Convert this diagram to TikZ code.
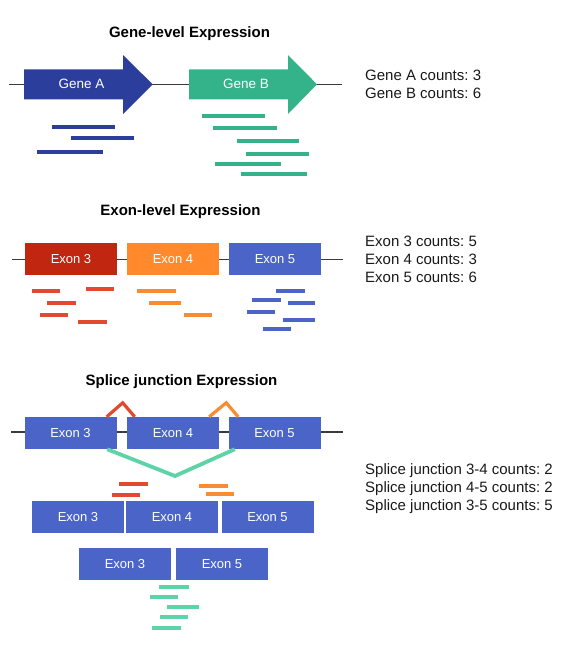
\documentclass[tikz,border=0pt]{standalone}
\usepackage{fontspec}
\setmainfont{Liberation Sans}
\usetikzlibrary{positioning}
\definecolor{geneA}{HTML}{2C3E9B}
\definecolor{geneB}{HTML}{34B28A}
\definecolor{exred}{HTML}{C02610}
\definecolor{exorange}{HTML}{FF892B}
\definecolor{exblue}{HTML}{4A64C8}
\definecolor{rdred}{HTML}{E24A30}
\definecolor{rdorange}{HTML}{F78C32}
\definecolor{rdgreen}{HTML}{5ED3A8}
\definecolor{backbone}{HTML}{3A3A3A}
\newcommand{\sz}[1]{\fontsize{#1}{18}\selectfont\frenchspacing}

\begin{document}
\begin{tikzpicture}[x=1pt, y=-1pt,
  title/.style={font=\sz{15}\bfseries, anchor=base, inner sep=0pt},
  counts/.style={font=\sz{15}, align=left, anchor=north west, inner sep=0pt, text=black!90},
  exon/.style={minimum width=92pt, minimum height=32pt, inner sep=0pt, text=white, font=\sz{13}},
  strand/.style={draw=backbone, line width=1.6pt},
  read/.style={line width=4pt},
  junction/.style={line width=3.2pt, line join=miter}]

\useasboundingbox (0,0) rectangle (565,649);

% gene level
\node[title] (gtitle) at (189.5,37) {Gene-level Expression};
\coordinate (gl) at (9,84.3);
\coordinate (gr) at (342,84.3);
\draw[strand] (gl) -- (gr);
\fill[geneA] (24,69.3) -- (123,69.3) -- (123,55) -- (152.7,84.3) -- (123,114) -- (123,99.3) -- (24,99.3) -- cycle;
\fill[geneB] (189,69.3) -- (288,69.3) -- (288,55) -- (317,84.3) -- (288,114) -- (288,99.3) -- (189,99.3) -- cycle;
\node[text=white, font=\sz{13.5}] (gA) at (81.5,84.3) {Gene A};
\node[text=white, font=\sz{13.5}] (gB) at (246,84.3) {Gene B};
\foreach \a/\b/\y in {52/115/126.7, 71/134/138.3, 37/103/152.3}
  \draw[read, geneA] (\a,\y) -- (\b,\y);
\foreach \a/\b/\y in {202/265/116.3, 213/277/128.3, 237/299/140.7, 246/309/154, 215/281/163.7, 241/307/174}
  \draw[read, geneB] (\a,\y) -- (\b,\y);
\node[counts] (gcount) at (365,69.7) {Gene A counts: 3\\Gene B counts: 6};

% exon level
\node[title] (etitle) at (180.5,215.4) {Exon-level Expression};
\coordinate (el) at (12,259.3);
\coordinate (er) at (343,259.3);
\draw[strand] (el) -- (er);
\node[exon, fill=exred] (e3) at (71,259.3) {Exon 3};
\node[exon, fill=exorange] (e4) at (173,259.3) {Exon 4};
\node[exon, fill=exblue] (e5) at (275,259.3) {Exon 5};
\foreach \a/\b/\y in {32/60/291, 86/114/289, 47/76/302.7, 40/68/315.3, 78/107/322}
  \draw[read, rdred] (\a,\y) -- (\b,\y);
\foreach \a/\b/\y in {137/176/290.7, 149/181/303.3, 184/212/315.3}
  \draw[read, rdorange] (\a,\y) -- (\b,\y);
\foreach \a/\b/\y in {276/305/290.7, 252/281/299.7, 288/315/303.3, 247/275/312, 283/315/320.3, 263/291/329.3}
  \draw[read, exblue] (\a,\y) -- (\b,\y);
\node[counts] (ecount) at (365,235.5) {Exon 3 counts: 5\\Exon 4 counts: 3\\Exon 5 counts: 6};

% splice junctions
\node[title] (stitle) at (181.5,385.4) {Splice junction Expression};
\coordinate (sl) at (11,431.7);
\coordinate (sr) at (343,431.7);
\draw[strand] (sl) -- (sr);
\node[exon, fill=exblue] (s3) at (70.5,433) {Exon 3};
\node[exon, fill=exblue] (s4) at (173,433) {Exon 4};
\node[exon, fill=exblue] (s5) at (274.5,433) {Exon 5};
\draw[junction, rdred] ([xshift=-10pt]s3.north east) -- ++(16,-14) -- ++(12,14);
\draw[junction, rdorange] ([xshift=-10pt]s4.north east) -- ++(17,-14) -- ++(12,14);
\draw[junction, rdgreen, line width=3.8pt] ([xshift=-9.5pt]s3.south east) -- (175,476) -- ([xshift=6.5pt]s5.south west);
\foreach \a/\b/\y in {119/148/483.7, 112/140/495.3}
  \draw[read, rdred] (\a,\y) -- (\b,\y);
\foreach \a/\b/\y in {199/228/485.7, 206/234/494}
  \draw[read, rdorange] (\a,\y) -- (\b,\y);
\node[exon, fill=exblue] (r3) at (78,517) {Exon 3};
\node[exon, fill=exblue] (r4) at (172,517) {Exon 4};
\node[exon, fill=exblue] (r5) at (267.5,517) {Exon 5};
\node[exon, fill=exblue] (k3) at (125,564) {Exon 3};
\node[exon, fill=exblue] (k5) at (222,564) {Exon 5};
\foreach \a/\b/\y in {159/189/587.3, 150/178/596.7, 167/199/606.7, 160/188/617, 152/181/627.7}
  \draw[read, rdgreen] (\a,\y) -- (\b,\y);
\node[counts] (scount) at (365,463) {Splice junction 3-4 counts: 2\\Splice junction 4-5 counts: 2\\Splice junction 3-5 counts: 5};

\end{tikzpicture}
\end{document}
